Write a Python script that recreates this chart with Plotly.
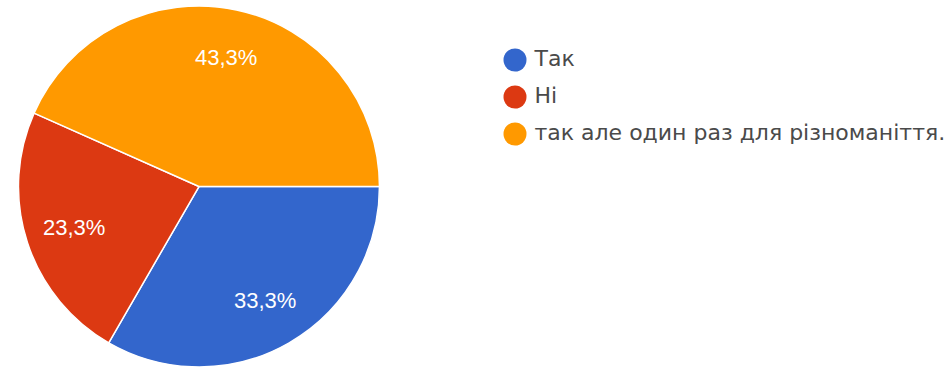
import numpy as np
import plotly.graph_objects as go

labels = ["Так", "Ні", "так але один раз для різноманіття."]
values = [10, 7, 13]
colors = ["#3366cc", "#dc3912", "#ff9900"]

vals = np.array(values, dtype=float)
frac = vals / vals.sum()
mid = np.cumsum(frac) - frac / 2
theta = -mid * 2 * np.pi  # clockwise from 3 o'clock
lab_r = 0.73
pct_text = [f"{p*100:.1f}%".replace(".", ",") for p in frac]

fig = go.Figure()
fig.add_trace(go.Pie(
    labels=labels, values=values, sort=False, direction="clockwise", rotation=90,
    marker=dict(colors=colors, line=dict(color="white", width=1.5)),
    textinfo="none", showlegend=False, hoverinfo="label+percent",
    domain=dict(x=[0.0, 0.418], y=[0, 1]),
))
# legend with round markers
fig.add_trace(go.Scatter(
    x=[0] * len(labels), y=list(range(len(labels))), mode="markers",
    marker=dict(color=colors, size=23, symbol="circle"),
    xaxis="x3", yaxis="y3", showlegend=False, hoverinfo="skip",
))
fig.add_trace(go.Scatter(
    x=[0.5] * len(labels), y=list(range(len(labels))), mode="text",
    text=labels, textposition="middle right",
    textfont=dict(size=22, color="#4a4a4a", family="DejaVu Sans, sans-serif"),
    xaxis="x3", yaxis="y3", showlegend=False, hoverinfo="skip",
))

# percentage labels placed on an axis scaled to the pie radius
for xx, yy, t in zip(lab_r * np.cos(theta), lab_r * np.sin(theta), pct_text):
    fig.add_annotation(x=xx, y=yy, xref="x2", yref="y2", text=t, showarrow=False,
                       font=dict(color="white", size=22, family="Liberation Sans, Arial, sans-serif"))

W, H, T = 952, 367, 6
pie_w = 0.418 * W
ph = H - T
rad = ph / 2
fig.update_layout(
    width=W, height=H, margin=dict(l=0, r=0, t=T, b=0),
    paper_bgcolor="white", plot_bgcolor="white", showlegend=False,
    xaxis2=dict(domain=[0, 0.418], range=[-pie_w / 2 / rad, pie_w / 2 / rad], visible=False, anchor="y2"),
    yaxis2=dict(domain=[0, 1], range=[-1, 1], visible=False, anchor="x2"),
    xaxis3=dict(domain=[0.5, 1], range=[-1, (0.5 * W) / 39 - 1], visible=False, anchor="y3"),
    yaxis3=dict(domain=[0, 1], range=[(ph - 54) / 37, -54 / 37], visible=False, anchor="x3"),
)
fig.write_html("out.html")
